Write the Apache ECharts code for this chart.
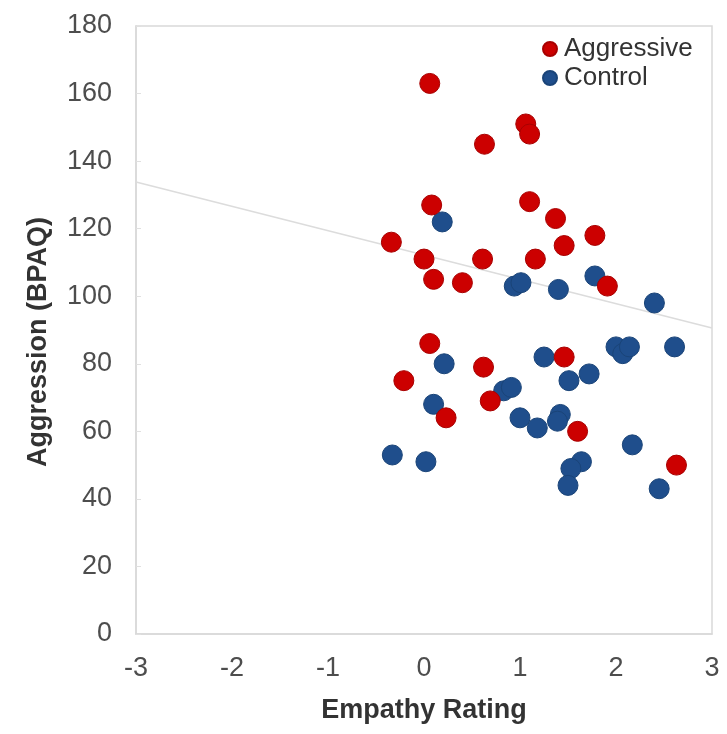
<!DOCTYPE html>
<html>
<head>
<meta charset="utf-8">
<script src="https://cdn.jsdelivr.net/npm/echarts@6/dist/echarts.min.js"></script>
<style>
  html, body { margin: 0; padding: 0; background: #fff; }
  #chart { width: 727px; height: 734px; }
</style>
</head>
<body>
<div id="chart"></div>
<script>
// Empathy rating (x) vs. BPAQ aggression score (y), by group
const aggressivePoints = [
  [0.06, 163], [1.06, 151], [1.10, 148], [0.63, 145], [1.10, 128],
  [0.08, 127], [1.37, 123], [-0.34, 116], [1.46, 115], [0.00, 111],
  [0.61, 111], [1.16, 111], [1.78, 118], [0.10, 105], [0.40, 104],
  [1.91, 103], [0.06, 86], [1.46, 82], [0.62, 79], [-0.21, 75],
  [0.69, 69], [0.23, 64], [1.60, 60], [2.63, 50]
];
const controlPoints = [
  [0.19, 122], [0.94, 103], [1.01, 104], [1.40, 102], [1.78, 106],
  [2.40, 98], [2.00, 85], [2.07, 83], [2.14, 85], [2.61, 85],
  [1.25, 82], [0.21, 80], [1.72, 77], [1.51, 75], [0.83, 72],
  [0.91, 73], [0.10, 68], [1.00, 64], [1.42, 65], [1.39, 63],
  [1.18, 61], [2.17, 56], [-0.33, 53], [0.02, 51], [1.64, 51],
  [1.53, 49], [1.50, 44], [2.45, 43]
];
// Overall linear fit, evaluated at the ends of the x range
const trendLine = [[-3, 133.8], [3, 90.6]];

const groupNames = ['Aggressive', 'Control'];
const xRange = [-3, 3];
const yRange = [0, 180];

const font = '"Liberation Sans", Arial, sans-serif';
const chart = echarts.init(document.getElementById('chart'), null, { renderer: 'canvas' });

chart.setOption({
  animation: false,
  backgroundColor: '#ffffff',
  grid: { left: 136, right: 15, top: 26, bottom: 100, show: true, borderColor: '#d9d9d9', borderWidth: 1.5 },
  legend: {
    data: groupNames,
    orient: 'vertical',
    left: 537,
    top: 31,
    itemWidth: 14,
    itemHeight: 14,
    itemGap: 3,
    icon: 'circle',
    textStyle: { fontFamily: font, fontSize: 26, color: '#333333', padding: [0, 0, 0, 2] }
  },
  xAxis: {
    type: 'value',
    min: xRange[0], max: xRange[1], interval: 1,
    name: 'Empathy Rating',
    nameLocation: 'middle',
    nameGap: 63,
    nameTextStyle: { fontFamily: font, fontSize: 27, fontWeight: 'bold', color: '#333333' },
    axisLine: { show: true, onZero: false, lineStyle: { color: '#d9d9d9', width: 1.5 } },
    axisTick: { show: false },
    splitLine: { show: false },
    axisLabel: { fontFamily: font, fontSize: 27, color: '#4d4d4d', margin: 21 }
  },
  yAxis: {
    type: 'value',
    min: yRange[0], max: yRange[1], interval: 20,
    name: 'Aggression (BPAQ)',
    nameLocation: 'middle',
    nameGap: 84,
    nameTextStyle: { fontFamily: font, fontSize: 27, fontWeight: 'bold', color: '#333333', padding: [0, 24, 0, 0] },
    axisLine: { show: true, onZero: false, lineStyle: { color: '#d9d9d9', width: 1.5 } },
    axisTick: { show: true, inside: true, length: 5, lineStyle: { color: '#e0e0e0' } },
    splitLine: { show: false },
    axisLabel: { fontFamily: font, fontSize: 27, color: '#4d4d4d', margin: 24 }
  },
  series: [
    {
      name: 'trend',
      type: 'line',
      data: trendLine,
      symbol: 'none',
      silent: true,
      z: 1,
      lineStyle: { color: '#dcdcdc', width: 1.5 }
    },
    {
      name: groupNames[0],
      type: 'scatter',
      data: aggressivePoints,
      symbolSize: 20,
      z: 3,
      itemStyle: { color: '#cc0000', borderColor: '#a80000', borderWidth: 1, opacity: 1 }
    },
    {
      name: groupNames[1],
      type: 'scatter',
      data: controlPoints,
      symbolSize: 20,
      z: 2,
      itemStyle: { color: '#1f4e8c', borderColor: '#1a4478', borderWidth: 1, opacity: 1 }
    }
  ]
});
</script>
</body>
</html>
